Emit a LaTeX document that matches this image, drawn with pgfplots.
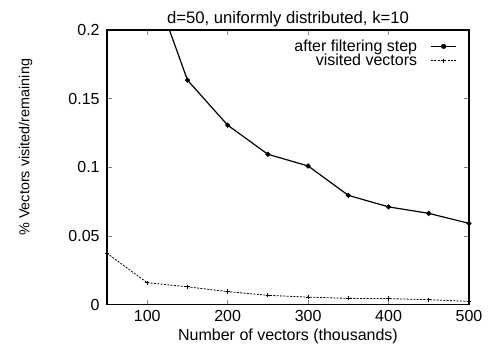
\documentclass[border=0pt]{standalone}
\usepackage{pgfplots}
\pgfplotsset{compat=1.18}
\usepackage{fontspec}
\setmainfont{Liberation Sans}
\begin{document}
\begin{tikzpicture}
\begin{axis}[
  name=ax,
  scale only axis,
  width=271.5pt, height=206pt,
  xmin=50, xmax=500, ymin=0, ymax=0.2,
  xtick={100,200,300,400,500},
  ytick={0,0.05,0.1,0.15,0.2},
  yticklabels={0,0.05,0.1,0.15,0.2},
  tick align=inside,
  tick pos=both,
  major tick length=3.5pt,
  tick style={line width=0.6pt},
  /pgf/number format/assume math mode=true,
  font=\fontsize{12}{14}\selectfont,
  title={\fontsize{12.5}{14}\selectfont d=50, uniformly distributed, k=10},
  title style={yshift=-7.5pt},
  xlabel={Number of vectors (thousands)},
  ylabel={\fontsize{10.8}{12}\selectfont\% Vectors visited/remaining},
  xlabel style={yshift=2pt},
  ylabel style={at={(axis description cs:-0.225,0.573)}, anchor=center, rotate=0},
  yticklabel style={xshift=-2pt},
  xticklabel style={yshift=-1pt},
  axis line style={line width=1.1pt},
  legend style={draw=none, fill=none, at={(rel axis cs:1,1)}, anchor=north east,
    xshift=-6pt, yshift=-3pt, column sep=8pt,
    legend cell align=right, font=\fontsize{12}{12}\selectfont, row sep=-3.5pt},
  legend image post style={xscale=1.1},
  legend plot pos=right,
  clip=true,
]
\addplot[black, line width=0.9pt, mark=*, mark size=1.4pt] coordinates {
 (100,0.245) (150,0.1635) (200,0.1307) (250,0.1095) (300,0.101) (350,0.0796)
 (400,0.0712) (450,0.0665) (500,0.0592)
};
\addlegendentry{after filtering step}
\addplot[black, line width=0.6pt, dash pattern=on 1.5pt off 1pt, mark=+, mark size=1.6pt, mark options={solid}] coordinates {
 (50,0.0374) (100,0.0160) (150,0.0130) (200,0.0095) (250,0.0068) (300,0.0055)
 (350,0.0046) (400,0.0044) (450,0.0036) (500,0.0024)
};
\addlegendentry{visited vectors}
\end{axis}
\pgfresetboundingbox
\useasboundingbox ([xshift=-80.25pt,yshift=-33.75pt]ax.south west) rectangle ([xshift=14.25pt,yshift=22.5pt]ax.north east);
\end{tikzpicture}
\end{document}
